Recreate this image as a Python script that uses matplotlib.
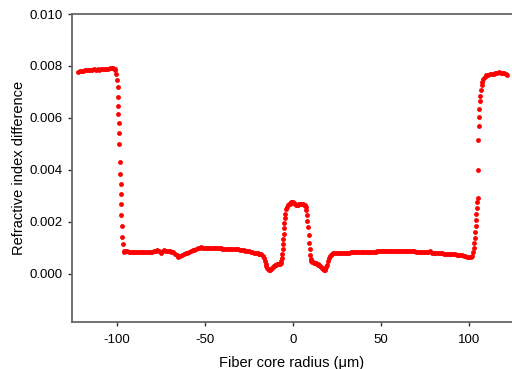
import numpy as np
import matplotlib
matplotlib.use("Agg")
import matplotlib.pyplot as plt

plt.rcParams['font.family'] = ['Liberation Sans', 'DejaVu Sans']
plt.rcParams['axes.unicode_minus'] = False

# left cladding plateau
x_left = [-122, -121, -120, -119, -118, -117, -116, -115, -114, -113, -112,
          -111, -110, -109, -108, -107, -106, -105, -104, -103, -102, -101, -100.8]
y_left = [0.00778, 0.00780, 0.00781, 0.00782, 0.00783, 0.00784, 0.00785, 0.00785,
          0.00786, 0.00787, 0.00786, 0.00787, 0.00786, 0.00787, 0.00788, 0.00787,
          0.00789, 0.00790, 0.00791, 0.00792, 0.00793, 0.00790, 0.00785]

# left edge drop
x_drop = [-100.4, -99.8, -99.6, -99.4, -99.3, -99.1, -98.9, -98.7, -98.6, -98.2,
          -98.0, -97.8, -97.6, -97.5, -97.4, -97.3, -96.9, -96.5, -96.2]
y_drop = [0.00769, 0.00746, 0.00718, 0.00682, 0.00647, 0.00614, 0.00582, 0.00541,
          0.00499, 0.00431, 0.00386, 0.00345, 0.00307, 0.00269, 0.00227, 0.00185,
          0.00143, 0.00115, 0.00086]

# flat region left of core
x_flat1 = [-96, -95, -94, -93, -92, -91, -90, -89, -88, -87, -86, -85, -84, -83,
           -82, -81, -80, -79, -78, -77, -76, -75, -74, -73, -72, -71, -70, -69,
           -68, -67, -66, -65, -64, -63, -62, -61, -60, -59, -58, -57, -56, -55,
           -54, -53, -52, -51, -50, -49, -48, -47, -46, -45, -44, -43, -42, -41,
           -40, -39, -38, -37, -36, -35, -34, -33, -32, -31, -30, -29, -28, -27,
           -26, -25, -24, -23, -22, -21, -20]
y_flat1 = [0.00088, 0.00087, 0.00087, 0.00086, 0.00086, 0.00085, 0.00085, 0.00084,
           0.00084, 0.00084, 0.00083, 0.00084, 0.00084, 0.00085, 0.00085, 0.00086,
           0.00086, 0.00087, 0.00090, 0.00093, 0.00088, 0.00080, 0.00087, 0.00093,
           0.00090, 0.00088, 0.00088, 0.00086, 0.00083, 0.00078, 0.00072, 0.00066,
           0.00067, 0.00072, 0.00076, 0.00080, 0.00082, 0.00086, 0.00089, 0.00091,
           0.00093, 0.00096, 0.00099, 0.00101, 0.00102, 0.00101, 0.00101, 0.00100,
           0.00100, 0.00100, 0.00099, 0.00099, 0.00099, 0.00098, 0.00098, 0.00098,
           0.00097, 0.00097, 0.00097, 0.00096, 0.00096, 0.00097, 0.00096, 0.00095,
           0.00095, 0.00094, 0.00093, 0.00092, 0.00091, 0.00090, 0.00089, 0.00087,
           0.00085, 0.00083, 0.00081, 0.00080, 0.00079]

# core with trenches
x_core = [-19.5, -19, -18, -17, -16.5, -16, -15.5, -15, -14.5, -14, -13.5, -13,
          -12.5, -12, -11.5, -11, -10.5, -10, -9.5, -9, -8.5, -8, -7.5, -7, -6.5,
          -6.2, -6.0, -5.8, -5.6, -5.4, -5.2, -5.0, -4.8, -4.5, -4.2, -3.8, -3.3,
          -2.8, -2.3, -1.8, -1.3, -0.8, -0.3, 0.2, 0.7, 1.2, 1.7, 2.2, 2.7, 3.2,
          3.7, 4.2, 4.7, 5.2, 5.7, 6.2, 6.7, 7.2, 7.6, 8.0, 8.3, 8.6, 8.9, 9.2,
          9.5, 9.8, 10.1, 10.5, 11, 11.5, 12, 12.5, 13, 13.5, 14, 14.5, 15, 15.5,
          16, 16.5, 17, 17.5, 18, 18.5, 19, 19.5, 20, 20.5, 21, 21.5, 22, 23, 24]
y_core = [0.00078, 0.00077, 0.00075, 0.00070, 0.00060, 0.00050, 0.00040, 0.00030,
          0.00022, 0.00017, 0.00015, 0.00016, 0.00019, 0.00023, 0.00027, 0.00030,
          0.00032, 0.00034, 0.00035, 0.00037, 0.00038, 0.00039, 0.00040, 0.00042,
          0.00048, 0.00060, 0.00075, 0.00095, 0.00115, 0.00135, 0.00155, 0.00175,
          0.00195, 0.00215, 0.00232, 0.00248, 0.00258, 0.00264, 0.00268, 0.00270,
          0.00273, 0.00276, 0.00278, 0.00276, 0.00272, 0.00268, 0.00266, 0.00265,
          0.00266, 0.00268, 0.00269, 0.00268, 0.00269, 0.00270, 0.00268, 0.00266,
          0.00264, 0.00258, 0.00245, 0.00228, 0.00205, 0.00180, 0.00150, 0.00120,
          0.00095, 0.00072, 0.00058, 0.00050, 0.00046, 0.00044, 0.00043, 0.00042,
          0.00041, 0.00040, 0.00038, 0.00036, 0.00034, 0.00031, 0.00027, 0.00022,
          0.00018, 0.00016, 0.00016, 0.00020, 0.00027, 0.00036, 0.00048, 0.00060,
          0.00069, 0.00074, 0.00077, 0.00079, 0.00080]

# flat region right of core
x_flat2 = [25, 26, 27, 28, 29, 30, 31, 32, 33, 34, 35, 36, 37, 38, 39, 40, 41, 42,
           43, 44, 45, 46, 47, 48, 49, 50, 51, 52, 53, 54, 55, 56, 57, 58, 59, 60,
           61, 62, 63, 64, 65, 66, 67, 68, 69, 70, 71, 72, 73, 74, 75, 76, 77, 78,
           79, 80, 81, 82, 83, 84, 85, 86, 87, 88, 89, 90, 91, 92, 93, 94, 95, 96,
           97, 98, 99, 100, 101, 101.8]
y_flat2 = [0.00080, 0.00080, 0.00081, 0.00081, 0.00081, 0.00082, 0.00082, 0.00082,
           0.00083, 0.00083, 0.00083, 0.00084, 0.00084, 0.00084, 0.00085, 0.00085,
           0.00085, 0.00085, 0.00086, 0.00086, 0.00086, 0.00086, 0.00086, 0.00087,
           0.00087, 0.00087, 0.00087, 0.00087, 0.00087, 0.00088, 0.00088, 0.00088,
           0.00088, 0.00088, 0.00088, 0.00088, 0.00088, 0.00088, 0.00089, 0.00090,
           0.00088, 0.00088, 0.00087, 0.00087, 0.00087, 0.00086, 0.00086, 0.00085,
           0.00085, 0.00084, 0.00083, 0.00083, 0.00085, 0.00087, 0.00082, 0.00081,
           0.00081, 0.00080, 0.00080, 0.00079, 0.00079, 0.00078, 0.00078, 0.00077,
           0.00077, 0.00076, 0.00076, 0.00075, 0.00074, 0.00073, 0.00072, 0.00071,
           0.00069, 0.00067, 0.00065, 0.00064, 0.00064, 0.00070]

# right edge rise and plateau
x_rise = [102.3, 102.7, 103.0, 103.3, 103.7, 103.9, 104.1, 104.3, 104.5, 104.7,
          104.9, 105.0, 105.3, 105.6, 105.8, 106.0, 106.2, 106.4, 106.8, 107.2,
          107.6, 108.2, 109, 110, 111, 112, 113, 114, 115, 116, 117, 118, 119,
          120, 121, 121.6]
y_rise = [0.00085, 0.00099, 0.00120, 0.00140, 0.00163, 0.00185, 0.00208, 0.00230,
          0.00252, 0.00275, 0.00291, 0.00400, 0.00515, 0.00569, 0.00605, 0.00635,
          0.00667, 0.00685, 0.00708, 0.00725, 0.00738, 0.00750, 0.00758, 0.00764,
          0.00767, 0.00769, 0.00770, 0.00771, 0.00772, 0.00774, 0.00775, 0.00774,
          0.00773, 0.00772, 0.00768, 0.00765]

x = x_left + x_drop + x_flat1 + x_core + x_flat2 + x_rise
y = y_left + y_drop + y_flat1 + y_core + y_flat2 + y_rise

fig = plt.figure(figsize=(5.12, 3.69), dpi=100)
ax = fig.add_axes([0.1406, 0.1274, 0.8594, 0.8346])
ax.plot(x, y, 'o', color='red', markersize=3.5, markeredgewidth=0)

ax.set_xlim(-125.5, 124.5)
ax.set_ylim(-0.00185, 0.010)
ax.set_xticks([-100, -50, 0, 50, 100])
ax.set_yticks([0.0, 0.002, 0.004, 0.006, 0.008, 0.010])
ax.set_yticklabels(['0.000', '0.002', '0.004', '0.006', '0.008', '0.010'])

for s in ['left', 'bottom', 'top']:
    ax.spines[s].set_color('#666666')
    ax.spines[s].set_linewidth(1.3)
ax.spines['right'].set_visible(False)
ax.tick_params(direction='out', length=3, width=1, color='#333333',
               labelsize=9.5)
ax.tick_params(axis='y', pad=4)
ax.tick_params(axis='x', pad=6)

ax.set_xlabel('Fiber core radius (\u03bcm)', fontsize=10.5, labelpad=7)
ax.set_ylabel('Refractive index difference', fontsize=10.5, labelpad=2)

fig.savefig('out.png', dpi=100)
